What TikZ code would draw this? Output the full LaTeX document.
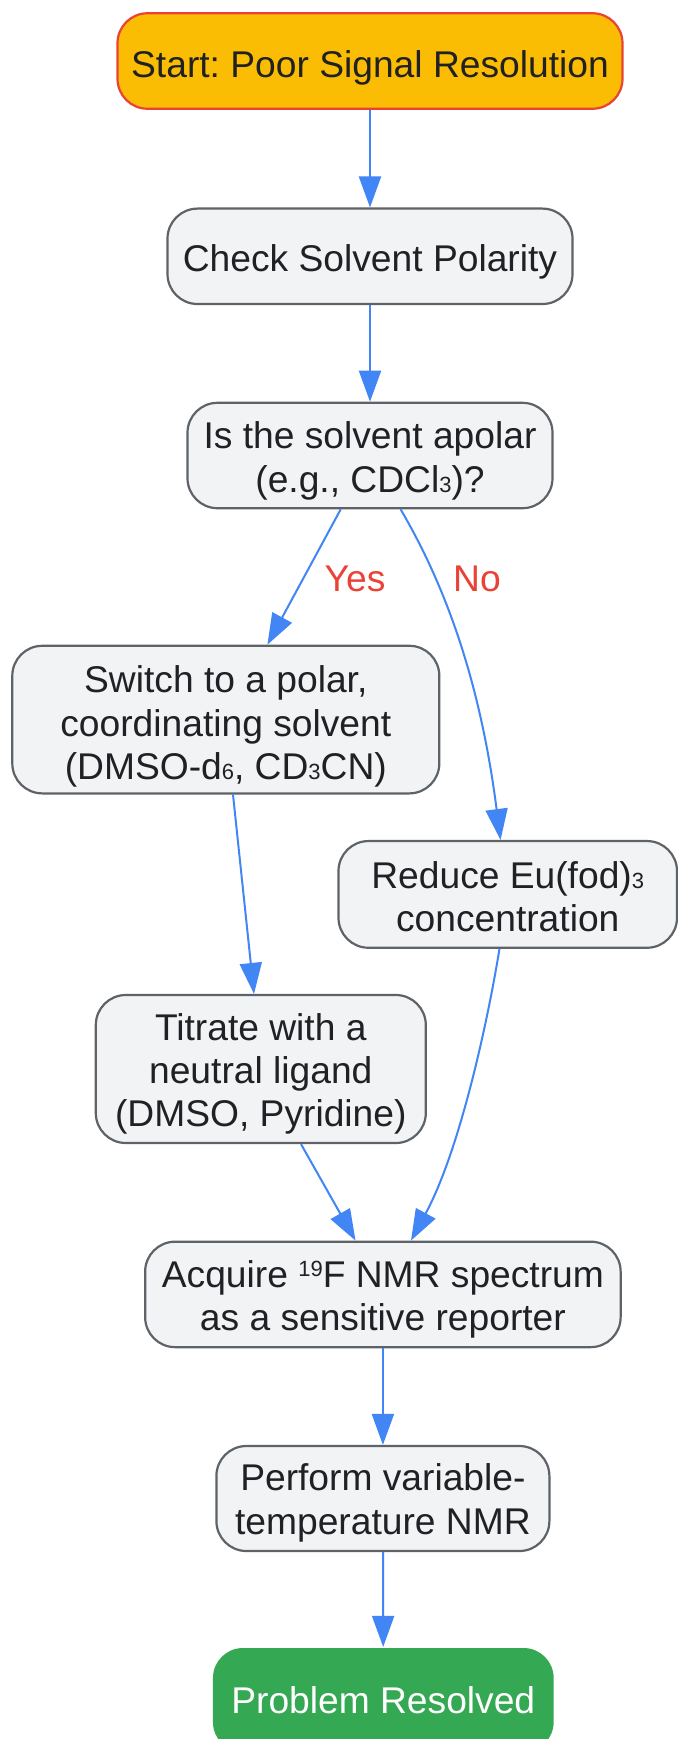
\documentclass[tikz,border=0pt]{standalone}
\usepackage{fontspec}
\setmainfont{Liberation Sans}
\frenchspacing
\usetikzlibrary{arrows.meta,calc}
\definecolor{nfill}{HTML}{F1F3F4}
\definecolor{nline}{HTML}{5F6368}
\definecolor{ntext}{HTML}{202124}
\definecolor{startfill}{HTML}{FBBC04}
\definecolor{startline}{HTML}{EA4335}
\definecolor{edgecol}{HTML}{4285F4}
\definecolor{lblcol}{HTML}{EA4335}
\definecolor{endfill}{HTML}{34A853}
\newcommand{\subs}[1]{{\fontsize{11pt}{11pt}\selectfont #1}}
\newcommand{\sups}[1]{\raisebox{5.4pt}{\fontsize{11pt}{11pt}\selectfont #1}}
\newcommand{\tx}[2]{\raisebox{-#1}[\height][\depth]{\begin{tabular}{@{}c@{}}#2\end{tabular}}}
\tikzset{
  base/.style={rounded corners=15pt, inner sep=0pt, align=center, text=ntext,
    font=\fontsize{18.6pt}{21.65pt}\selectfont, line width=1.1pt},
  procbox/.style={base, draw=nline, fill=nfill},
  startbox/.style={base, draw=startline, fill=startfill},
  endbox/.style={base, fill=endfill, text=white},
  sz/.style 2 args={minimum width=#1*0.5pt, minimum height=#2*0.5pt},
  edge/.style={draw=edgecol, line width=1pt, -{Triangle[length=15.5pt,width=11pt]}},
  elabel/.style={text=lblcol, font=\fontsize{18.6pt}{21.65pt}\selectfont}
}
\begin{document}
\begin{tikzpicture}[x=0.5pt, y=-0.5pt]
\useasboundingbox (0,0) rectangle (678,1739);
\clip (0,0) rectangle (678,1739);
\fill[white] (0,0) rectangle (678,1739);

\node[startbox, sz={505}{95.5}] (start) at (370,61) {\tx{3.7pt}{Start: Poor Signal Resolution}};
\node[procbox, sz={405}{95.4}] (check) at (370,256.3) {\tx{3.3pt}{Check Solvent Polarity}};
\node[procbox, sz={365}{105.4}] (isapol) at (370,455.5) {\tx{3.2pt}{Is the solvent apolar\\(e.g., CDCl\subs{3})?}};
\node[procbox, sz={427}{147.6}] (switch) at (225.8,719.6) {\tx{4pt}{Switch to a polar,\\coordinating solvent\\(DMSO-d\subs{6}, CD\subs{3}CN)}};
\node[procbox, sz={338.5}{106.7}] (reduce) at (507.75,894.4) {\tx{3.4pt}{Reduce Eu(fod)\subs{3}\\concentration}};
\node[procbox, sz={330}{148}] (titrate) at (260.8,1069) {\tx{3pt}{Titrate with a\\neutral ligand\\(DMSO, Pyridine)}};
\node[procbox, sz={475.5}{105.5}] (acquire) at (382.9,1294.4) {\tx{3.1pt}{Acquire \sups{19}F NMR spectrum\\as a sensitive reporter}};
\node[procbox, sz={333}{105}] (perform) at (382.9,1498.5) {\tx{2.6pt}{Perform variable-\\temperature NMR}};
\node[endbox, sz={340.7}{104}] (resolved) at (383.3,1700) {Problem Resolved};

\draw[edge] (start) -- (check);
\draw[edge] (check) -- (isapol);
\draw[edge] ($(isapol.south)+(-29.3,0)$) -- ($(switch.north)+(41.6,0)$);
\draw[edge] ($(isapol.south)+(30.6,0)$) .. controls (445,585) and (480,680) .. ($(reduce.north)+(-7.2,0)$);
\draw[edge] ($(switch.south)+(7.2,0)$) -- ($(titrate.north)+(-6.8,0)$);
\draw[edge] ($(reduce.south)+(-8.3,0)$) .. controls (488,1020) and (460,1150) .. ($(acquire.north)+(28.1,0)$);
\draw[edge] ($(titrate.south)+(40.2,0)$) -- ($(acquire.north)+(-27.4,0)$);
\draw[edge] (acquire) -- (perform);
\draw[edge] (perform) -- (resolved);

\node[elabel] (yes) at (355,579) {Yes};
\node[elabel] (no) at (477,579) {No};
\end{tikzpicture}
\end{document}
